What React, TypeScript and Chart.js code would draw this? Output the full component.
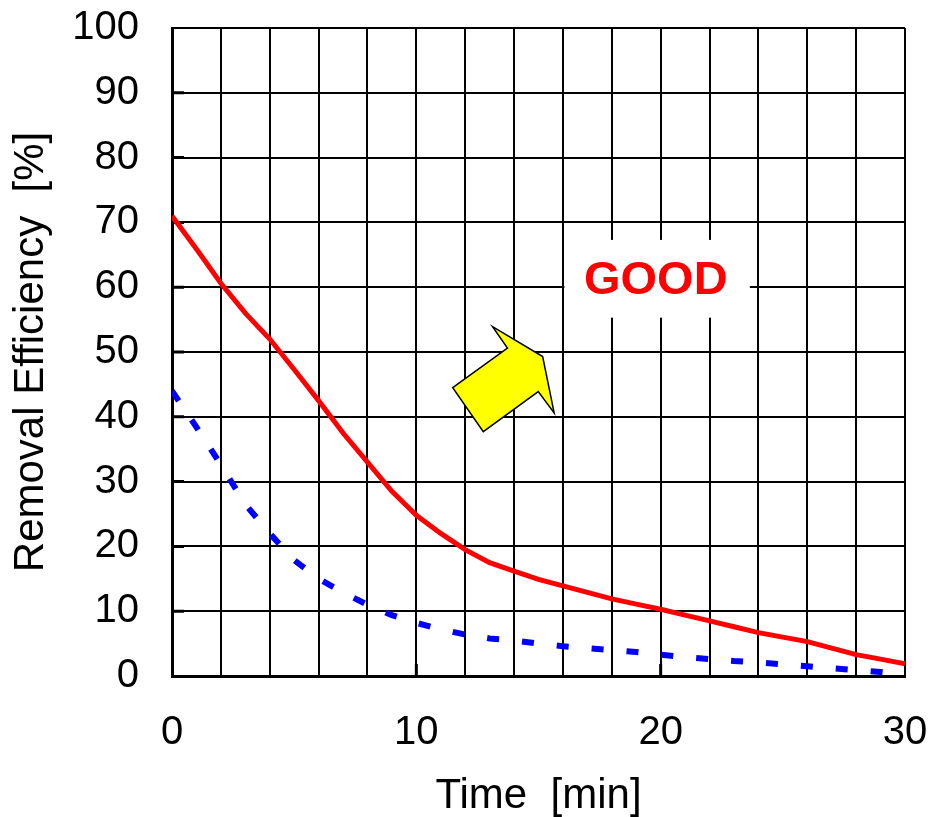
import { useEffect, useRef } from "react";
import { Chart, registerables, type Plugin } from "chart.js";

Chart.register(...registerables);

// values
const times = [0, 1, 2, 3, 4, 5, 6, 7, 8, 9, 10, 11, 12, 13, 14, 15, 16, 17, 18, 19, 20, 21, 22, 23, 24, 25, 26, 27, 28, 29, 30];
const goodSeries = [71, 65.9, 60.6, 56, 52, 47.3, 42.5, 37.5, 33, 28.5, 24.8, 22, 19.5, 17.5, 16.2, 14.9, 13.9, 12.9, 11.9, 11.1, 10.3, 9.4, 8.5, 7.6, 6.7, 6.0, 5.3, 4.3, 3.3, 2.6, 1.9];
const baseSeries = [44, 38.4, 32.6, 26.5, 22, 17.9, 15, 12.9, 11, 9.4, 8.2, 7.2, 6.4, 5.8, 5.5, 5.0, 4.6, 4.3, 4.0, 3.7, 3.3, 2.9, 2.6, 2.3, 2.1, 1.8, 1.5, 1.2, 0.9, 0.6, 0.2];
const xTickLabels = [0, 10, 20, 30];
const goodText = "GOOD";

const FONT = "'Liberation Sans', Arial, sans-serif";

// yellow arrow outline, in (min, %) units
const arrowPath: [number, number][] = [
  [11.49, 44.5],
  [13.73, 50.6],
  [13.12, 53.9],
  [15.17, 49.3],
  [15.64, 40.6],
  [14.99, 43.9],
  [12.74, 37.7],
];

const annotations: Plugin<"line"> = {
  id: "annotations",
  beforeDatasetsDraw(chart) {
    const { ctx, chartArea } = chart;
    const x = chart.scales.x;
    const y = chart.scales.y;
    ctx.save();

    // white label box hiding the grid behind "GOOD"
    const bx0 = x.getPixelForValue(16) + 1.5;
    const bx1 = x.getPixelForValue(23.65);
    const by0 = y.getPixelForValue(67.3);
    const by1 = y.getPixelForValue(55.3);
    ctx.fillStyle = "#ffffff";
    ctx.fillRect(bx0, by0, bx1 - bx0, by1 - by0);
    ctx.fillStyle = "#ff0000";
    ctx.font = `bold 47px ${FONT}`;
    ctx.textAlign = "center";
    ctx.textBaseline = "middle";
    ctx.fillText(goodText, x.getPixelForValue(19.8), y.getPixelForValue(61));

    // arrow
    ctx.beginPath();
    arrowPath.forEach(([vx, vy], i) => {
      const px = x.getPixelForValue(vx);
      const py = y.getPixelForValue(vy);
      if (i === 0) ctx.moveTo(px, py);
      else ctx.lineTo(px, py);
    });
    ctx.closePath();
    ctx.fillStyle = "#ffff00";
    ctx.fill();
    ctx.strokeStyle = "#000000";
    ctx.lineWidth = 1.5;
    ctx.lineJoin = "miter";
    ctx.stroke();

    // inner tick stubs
    ctx.beginPath();
    ctx.lineWidth = 3;
    for (let v = 10; v < 100; v += 10) {
      const py = y.getPixelForValue(v);
      ctx.moveTo(chartArea.left, py);
      ctx.lineTo(chartArea.left + 12, py);
    }
    for (const v of [10, 20]) {
      const px = x.getPixelForValue(v);
      ctx.moveTo(px, chartArea.bottom);
      ctx.lineTo(px, chartArea.bottom - 12);
    }
    ctx.stroke();
    ctx.restore();
  },
};

export default function App() {
  const ref = useRef<HTMLCanvasElement | null>(null);
  const chartRef = useRef<Chart | null>(null);

  useEffect(() => {
    if (!ref.current) return;
    chartRef.current?.destroy();
    chartRef.current = new Chart(ref.current, {
      type: "line",
      data: {
        datasets: [
          {
            label: "good",
            data: times.map((t, i) => ({ x: t, y: goodSeries[i] })),
            borderColor: "#ff0000",
            borderWidth: 5,
            pointRadius: 0,
            tension: 0,
          },
          {
            label: "base",
            data: times.map((t, i) => ({ x: t, y: baseSeries[i] })),
            borderColor: "#0000ff",
            borderWidth: 6,
            borderDash: [12, 23],
            borderCapStyle: "butt",
            pointRadius: 0,
            tension: 0,
          },
        ],
      },
      options: {
        animation: false,
        responsive: true,
        maintainAspectRatio: false,
        layout: { padding: { top: 28, right: 24, left: 0, bottom: 0 } },
        plugins: { legend: { display: false }, tooltip: { enabled: false } },
        scales: {
          x: {
            type: "linear",
            min: 0,
            max: 30,
            afterFit: (s) => {
              s.height = 141;
              s.paddingLeft = 0;
              s.paddingRight = 0;
            },
            ticks: {
              stepSize: 2,
              autoSkip: false,
              maxRotation: 0,
              padding: 37,
              color: "#000",
              font: { family: FONT, size: 40, lineHeight: 1 },
              callback: (v) => (xTickLabels.includes(Number(v)) ? String(v) : ""),
            },
            grid: { color: "#000", lineWidth: 2, drawTicks: false },
            border: { color: "#000", width: 3 },
            title: {
              display: true,
              text: "Time  [min]",
              color: "#000",
              font: { family: FONT, size: 42, lineHeight: 1 },
              padding: { top: 0, bottom: 0 },
            },
          },
          y: {
            min: 0,
            max: 100,
            afterFit: (s) => {
              s.width = 172;
              s.paddingTop = 0;
              s.paddingBottom = 0;
            },
            ticks: {
              stepSize: 10,
              padding: 33,
              color: "#000",
              font: { family: FONT, size: 40, lineHeight: 1 },
            },
            grid: { color: "#000", lineWidth: 2, drawTicks: false },
            border: { color: "#000", width: 3 },
            title: {
              display: true,
              text: "Removal Efficiency  [%]",
              color: "#000",
              font: { family: FONT, size: 42, lineHeight: 1 },
              padding: { top: 10, bottom: 0 },
            },
          },
        },
      },
      plugins: [annotations],
    });
    return () => chartRef.current?.destroy();
  }, []);

  return (
    <div style={{ position: "absolute", left: 0, top: 0, width: 929, height: 817, background: "#fff" }}>
      <canvas ref={ref} />
    </div>
  );
}
